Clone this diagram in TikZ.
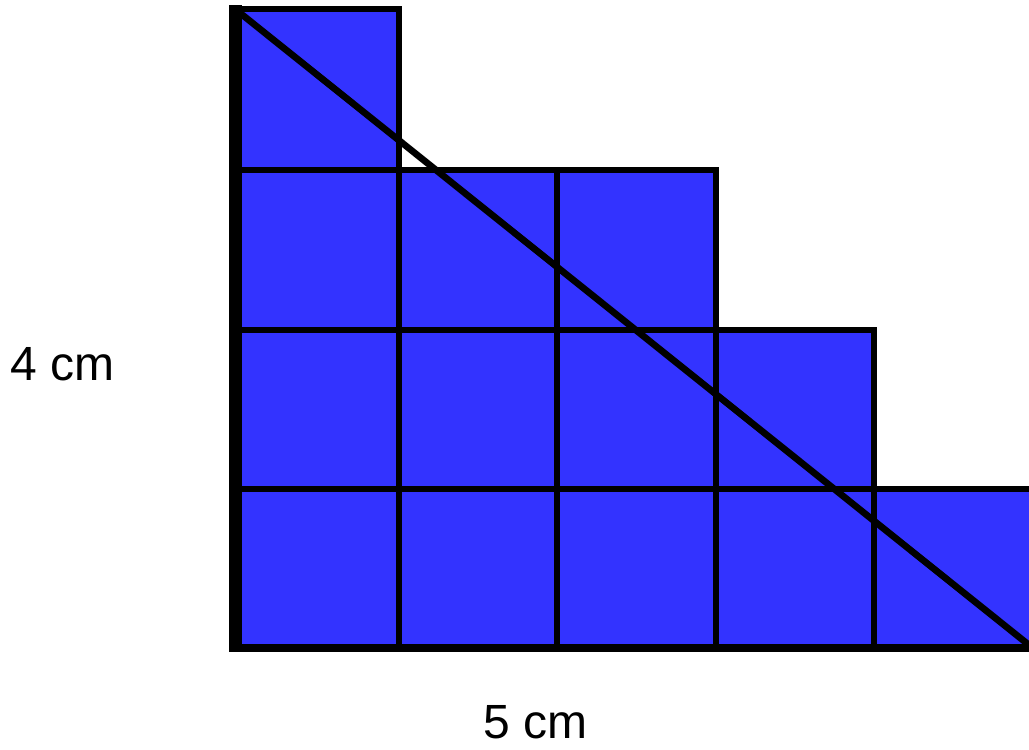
\documentclass[tikz,border=0pt]{standalone}
\usepackage{fontspec}
\setmainfont{Liberation Sans}
\definecolor{sqblue}{HTML}{3333FF}
\begin{document}
\begin{tikzpicture}[x=0.75pt,y=-0.75pt,
  cell/.style={fill=sqblue,draw=black,line width=4.5pt},
  lbl/.style={font=\fontsize{36}{40}\selectfont,inner sep=0pt}]
\useasboundingbox (0,0) rectangle (1029,750);
% grid coordinates
\def\xa{235}\def\xb{398.5}\def\xc{557}\def\xd{716}\def\xe{874}\def\xf{1045}
\def\ya{9}\def\yb{170}\def\yc{330}\def\yd{489}\def\ye{648}
% row 1
\draw[cell] (\xa,\ya) rectangle (\xb,\yb);
% row 2
\draw[cell] (\xa,\yb) rectangle (\xb,\yc);
\draw[cell] (\xb,\yb) rectangle (\xc,\yc);
\draw[cell] (\xc,\yb) rectangle (\xd,\yc);
% row 3
\draw[cell] (\xa,\yc) rectangle (\xb,\yd);
\draw[cell] (\xb,\yc) rectangle (\xc,\yd);
\draw[cell] (\xc,\yc) rectangle (\xd,\yd);
\draw[cell] (\xd,\yc) rectangle (\xe,\yd);
% row 4
\draw[cell] (\xa,\yd) rectangle (\xb,\ye);
\draw[cell] (\xb,\yd) rectangle (\xc,\ye);
\draw[cell] (\xc,\yd) rectangle (\xd,\ye);
\draw[cell] (\xd,\yd) rectangle (\xe,\ye);
\draw[cell] (\xe,\yd) rectangle (\xf,\ye);
% axes and diagonal
\coordinate (top) at (\xa,\ya);
\coordinate (origin) at (\xa,\ye);
\coordinate (far) at (1029,645);
\coordinate (right) at (1040,\ye);
\draw[line width=6pt] (origin) -- (right);
\draw[line width=9.75pt] (\xa,5) -- (\xa,652);
\draw[line width=5pt] (top) -- (far);
% labels
\node[lbl] (h) at (63,364.5) {4 cm};
\node[lbl] (w) at (536,722) {5 cm};
\end{tikzpicture}
\end{document}
